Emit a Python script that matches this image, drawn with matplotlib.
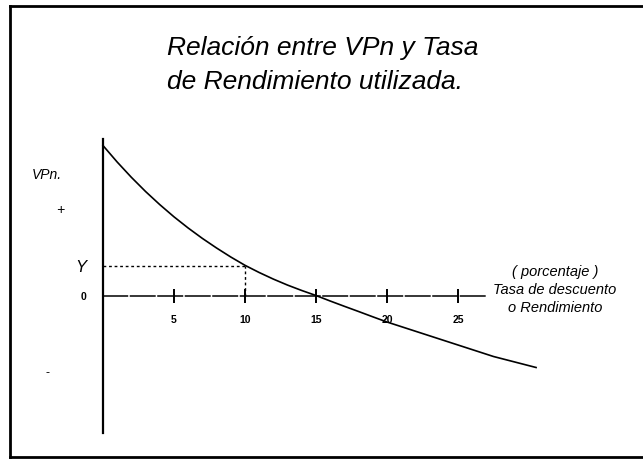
import matplotlib
matplotlib.use("Agg")
import matplotlib.pyplot as plt
from matplotlib.lines import Line2D

# tasa de descuento (%) y valor presente neto (unidades arbitrarias)
tasas = [0, 1, 2, 3, 4, 5, 6, 7, 8, 9, 10, 11, 12, 13, 14, 15,
         16, 17, 18, 19, 20, 22.5, 25, 27.5, 30.5]
vpn = [15.0, 13.35, 11.82, 10.4, 9.09, 7.87, 6.75, 5.71, 4.75, 3.85, 3.02,
       2.3, 1.64, 1.04, 0.5, 0.0,
       -0.55, -1.08, -1.6, -2.13, -2.65, -3.8, -4.95, -6.1, -7.2]
tasa_y = 10
valor_y = 3.0
ticks_x = [5, 10, 15, 20, 25]

titulo = "Relación entre VPn y Tasa\nde Rendimiento utilizada."

plt.rcParams['font.family'] = ['Liberation Sans', 'DejaVu Sans']

fig = plt.figure(figsize=(6.43, 4.65), dpi=100)
ax = fig.add_axes([0, 0, 1, 1])
ax.set_xlim(-7.25, 38.03)
ax.set_ylim(-16.95, 29.55)

# ejes cartesianos cruzando en el origen
ax.spines['right'].set_visible(False)
ax.spines['top'].set_visible(False)
ax.spines['left'].set_position(('data', 0))
ax.spines['bottom'].set_position(('data', 0))
ax.spines['left'].set_bounds(-13.7, 15.6)
ax.spines['bottom'].set_bounds(0, 27.0)
ax.spines['left'].set_linewidth(1.6)
ax.spines['bottom'].set_linewidth(1.1)
ax.spines['bottom'].set_linestyle((0, (16, 2)))

ax.set_xticks(ticks_x)
ax.set_xticklabels([str(t) for t in ticks_x], fontsize=7.5, fontweight='bold')
ax.tick_params(axis='x', direction='inout', length=10, width=1.4, pad=9)

ax.set_yticks([0, valor_y])
ax.set_yticklabels(['0', 'Y'])
ax.tick_params(axis='y', length=0, pad=12)
lbls = ax.get_yticklabels()
lbls[0].set_fontsize(7.5)
lbls[0].set_fontweight('bold')
lbls[1].set_fontsize(12)
lbls[1].set_fontstyle('italic')

# curva VPn vs tasa
ax.plot(tasas, vpn, color='black', lw=1.2)

# lineas punteadas hacia Y
ax.plot([0, tasa_y], [valor_y, valor_y], color='black', lw=1, linestyle=(0, (2, 2)))
ax.plot([tasa_y, tasa_y], [0, valor_y], color='black', lw=1, linestyle=(0, (2, 2)))

ax.text(167 / 643, 1 - 65 / 465, titulo, transform=ax.transAxes, fontsize=19,
        fontstyle='italic', ha='left', va='center', linespacing=1.5)

ax.text(47 / 643, 1 - 175 / 465, "VPn.", transform=ax.transAxes, fontsize=10,
        fontstyle='italic', ha='center', va='center')
ax.text(60 / 643, 1 - 210 / 465, "+", transform=ax.transAxes, fontsize=10,
        fontstyle='italic', ha='center', va='center')
ax.text(47 / 643, 1 - 373 / 465, "-", transform=ax.transAxes, fontsize=9,
        ha='center', va='center')

ax.text(555 / 643, 1 - 290 / 465, "( porcentaje )\nTasa de descuento\no Rendimiento",
        transform=ax.transAxes, fontsize=10.5, fontstyle='italic', ha='center',
        va='center', linespacing=1.35)

# marco del recuadro
for xs, ys in [([10, 643], [6, 6]), ([10, 10], [6, 457]), ([10, 643], [457, 457])]:
    fig.add_artist(Line2D([x / 643 for x in xs], [1 - y / 465 for y in ys],
                          transform=fig.transFigure, color='black', lw=2))

fig.savefig("out.png", dpi=100)
